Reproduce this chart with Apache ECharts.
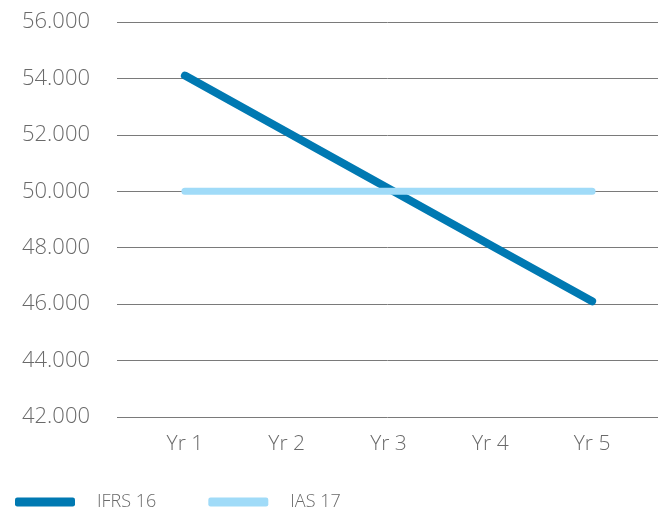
<!DOCTYPE html>
<html><head><meta charset="utf-8">
<script src="https://cdn.jsdelivr.net/npm/echarts@6/dist/echarts.min.js"></script>
<style>html,body{margin:0;padding:0;background:#fff}#c{width:658px;height:509px}</style>
</head><body><div id="c"></div>
<script>
const categories = ['Yr 1','Yr 2','Yr 3','Yr 4','Yr 5'];
const ifrs16 = [54100, 52100, 50100, 48100, 46100];
const ias17 = [50000, 50000, 50000, 50000, 50000];
const yTicks = [42000, 44000, 46000, 48000, 50000, 52000, 54000, 56000];

const font = '"Open Sans", sans-serif';
const chart = echarts.init(document.getElementById('c'));
const fmt = v => (v/1000) + '.000';
chart.setOption({
  animation: false,
  grid: [
    {left: 117, right: 0, top: 22, bottom: 92},
    {left: 134, right: 15, top: 22, bottom: 92}
  ],
  xAxis: [
    {gridIndex: 0, type: 'category', data: categories, show: false},
    {gridIndex: 1, type: 'category', data: categories, boundaryGap: true,
     axisLine: {show: false}, axisTick: {show: false},
     axisLabel: {color: '#6a6a6a', fontFamily: font, fontSize: 21, fontWeight: 300, margin: 17}}
  ],
  yAxis: [
    {gridIndex: 0, type: 'value', min: yTicks[0], max: yTicks[yTicks.length-1], interval: 2000,
     axisLine: {show: false}, axisTick: {show: false},
     axisLabel: {formatter: fmt, color: '#6a6a6a', fontFamily: font, fontSize: 22, fontWeight: 300, margin: 27},
     splitLine: {lineStyle: {color: '#7a7a7a', width: 1}}},
    {gridIndex: 1, type: 'value', min: yTicks[0], max: yTicks[yTicks.length-1], interval: 2000, show: false,
     splitLine: {show: false}}
  ],
  legend: {
    left: 10, bottom: -7, itemWidth: 60, itemHeight: 9, icon: 'roundRect', itemGap: 52,
    textStyle: {color: '#6a6a6a', fontFamily: font, fontSize: 18, fontWeight: 300, padding: [0,0,0,17]},
    data: ['IFRS 16', 'IAS 17']
  },
  series: [
    {name: 'IFRS 16', type: 'line', xAxisIndex: 1, yAxisIndex: 1, data: ifrs16, symbol: 'none',
     color: '#0079b2', lineStyle: {width: 8, cap: 'round', color: '#0079b2'}},
    {name: 'IAS 17', type: 'line', xAxisIndex: 1, yAxisIndex: 1, data: ias17, symbol: 'none',
     color: '#a0dbf8', lineStyle: {width: 7, cap: 'round', color: '#a0dbf8'}}
  ]
});
</script></body></html>
